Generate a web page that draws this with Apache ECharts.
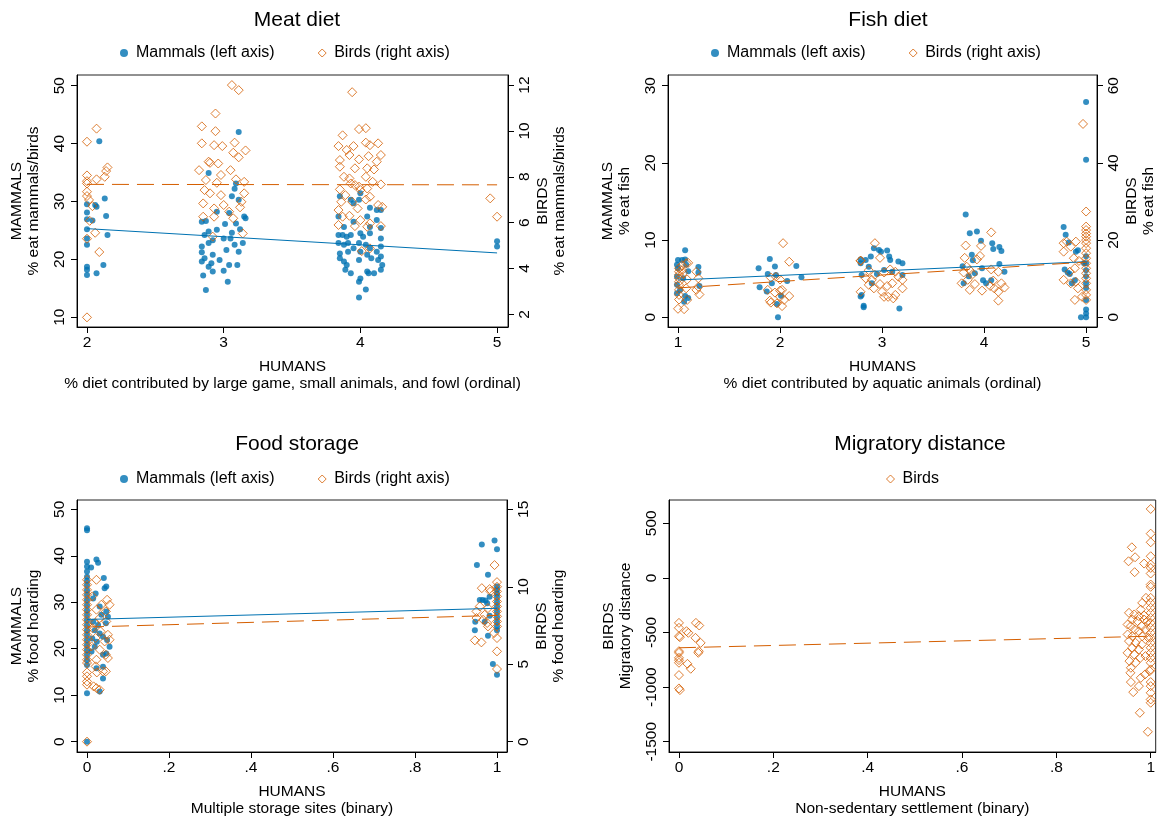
<!DOCTYPE html>
<html>
<head>
<meta charset="utf-8">
<script src="https://cdn.jsdelivr.net/npm/echarts@6/dist/echarts.min.js"></script>
<style>
html,body{margin:0;padding:0;background:#fff;}
#chart{width:1158px;height:822px;}
</style>
</head>
<body>
<div id="chart"></div>
<script>
var BLUE = '#0072B2', ORANGE = '#D55E00';
var FONT = 'Liberation Sans, Arial, sans-serif';

// ---- Meat diet ----
var meatMammals = [
  [2.09,40.4],[2.0,29.5],[2.06,29.4],[2.07,29.1],[2.13,30.5],[2.0,28.1],[2.0,26.9],[2.04,26.7],[2.14,27.5],[2.0,25.2],[2.0,23.6],[2.15,24.2],[2.0,22.5],[2.0,18.7],[2.0,18.2],[2.0,17.3],[2.07,17.6],[2.12,19.0],
  [3.11,42.0],[2.89,34.9],[3.09,33.1],[3.08,32.2],[3.06,30.9],[3.11,30.3],[2.95,28.2],[3.04,28.0],[3.15,27.4],[3.16,27.1],[2.84,26.5],[2.87,26.6],[3.01,26.1],[3.09,26.2],[2.86,24.2],[2.89,24.8],[2.95,25.1],[3.06,24.6],[3.12,25.2],[3.0,23.6],[3.05,23.6],[2.92,23.3],[2.89,22.8],[3.08,22.5],[3.14,22.8],[2.84,22.2],[2.84,21.2],[3.02,21.6],[3.11,21.3],[2.86,20.2],[2.92,20.8],[2.97,19.9],[2.84,19.6],[2.91,19.3],[3.04,19.0],[3.1,19.0],[2.89,18.7],[2.92,17.9],[2.85,17.2],[3.0,18.0],[3.03,16.1],[2.87,14.7],
  [3.85,30.9],[4.0,31.4],[3.99,30.3],[4.07,28.9],[3.93,30.3],[4.12,28.5],[4.15,28.5],[3.84,27.4],[4.05,27.4],[4.12,26.8],[3.95,26.5],[3.88,25.6],[4.07,25.6],[4.15,25.4],[3.84,24.2],[3.87,24.2],[3.9,23.9],[3.93,24.2],[4.0,24.5],[4.02,23.9],[4.07,24.5],[4.15,23.6],[3.84,22.8],[3.88,22.5],[3.91,22.8],[3.99,22.8],[4.04,22.5],[3.95,21.9],[4.07,21.9],[4.15,22.2],[4.12,21.3],[3.85,21.0],[4.0,21.3],[3.91,21.3],[4.05,20.8],[4.15,20.5],[3.85,20.2],[3.88,19.6],[3.99,19.9],[4.08,20.2],[4.13,19.9],[3.9,19.0],[4.16,19.0],[3.89,18.2],[3.93,17.6],[4.05,17.9],[4.06,17.6],[4.1,17.6],[4.15,18.2],[4.0,16.7],[3.99,16.1],[4.04,14.8],[3.99,13.4],[3.95,29.7],
  [5.0,23.1],[5.0,22.2]
];
var meatBirds = [
  [2.0,9.53],[2.07,10.1],[2.0,8.06],[2.0,7.81],[2.0,7.71],[2.15,8.41],[2.14,8.25],[2.13,8.0],[2.07,7.89],[2.0,7.35],[2.0,7.16],[2.015,6.99],[2.04,6.72],[2.02,6.08],[2.06,5.56],[2.0,5.3],[2.09,4.72],[2.0,1.87],
  [3.06,12.0],[3.11,11.78],[2.94,10.76],[2.84,10.2],[2.94,9.99],[2.84,9.46],[3.08,9.49],[2.93,9.38],[2.99,9.34],[3.16,9.15],[3.07,9.05],[3.11,8.85],[2.96,8.58],[2.82,8.29],[2.89,8.66],[2.9,8.61],[3.05,8.29],[2.98,8.08],[2.87,7.86],[3.09,7.89],[3.15,7.78],[2.95,7.74],[2.86,7.42],[2.9,7.28],[2.98,7.2],[3.15,7.28],[2.85,6.84],[2.93,6.62],[3.0,6.77],[3.13,6.91],[2.85,6.26],[2.93,6.26],[3.04,6.48],[3.12,6.67],[3.07,6.19],[2.92,5.39],[3.14,5.53],
  [3.94,11.69],[3.99,10.08],[4.04,10.12],[3.87,9.81],[3.84,9.34],[3.9,9.17],[3.95,9.34],[4.04,9.49],[4.07,9.38],[4.13,9.46],[3.92,8.95],[4.06,8.9],[4.15,8.95],[3.85,8.73],[3.99,8.76],[4.12,8.66],[3.85,8.44],[3.96,8.37],[4.05,8.37],[4.1,8.32],[3.88,8.0],[3.92,7.93],[4.04,8.0],[4.09,7.78],[3.93,7.71],[3.96,7.64],[3.99,7.57],[4.15,7.67],[3.85,7.45],[4.05,7.49],[3.89,7.2],[4.0,7.42],[4.07,7.13],[3.86,6.91],[3.94,6.91],[4.04,7.01],[3.84,6.55],[3.98,6.62],[4.13,6.77],[4.16,6.69],[3.87,6.26],[3.92,6.3],[4.0,6.11],[4.07,5.97],[3.84,5.9],[3.96,5.85],[4.05,5.82],[4.15,5.85],[4.01,4.76],[4.07,4.88],
  [4.95,7.06],[5.0,6.26]
];
var meatMammalFit = [[2, 25.3], [5, 21.1]];
var meatBirdFit = [[2, 7.67], [5, 7.65]];

// ---- Fish diet ----
var fishMammals = [
  [1.07,8.68],[1.0,7.43],[1.04,7.43],[1.07,7.5],[0.99,6.8],[1.08,6.8],[1.0,6.35],[1.2,6.5],[1.1,5.96],[1.2,5.8],[0.99,5.27],[1.05,5.05],[0.99,4.2],[1.21,4.06],[1.02,3.54],[1.07,2.77],[0.99,3.1],[1.06,2.0],[1.1,2.5],
  [1.79,6.35],[1.9,7.56],[1.95,6.57],[1.88,5.62],[1.96,5.49],[1.8,3.89],[1.87,3.33],[1.92,4.41],[1.97,1.73],[1.98,0.0],[2.01,2.8],[2.07,4.7],[2.16,6.65],[2.21,5.18],
  [2.92,8.94],[2.97,8.72],[2.99,8.5],[3.05,8.64],[3.08,7.43],[3.07,7.86],[3.16,7.22],[3.2,7.0],[2.89,7.86],[2.84,7.43],[2.79,7.0],[2.87,6.56],[2.8,5.48],[2.95,5.62],[3.1,5.9],[3.2,5.48],[2.79,2.68],[2.9,4.4],[3.02,6.13],[3.17,1.13],[2.82,1.5],[2.79,7.5],[2.82,1.3],[2.8,2.9],
  [3.82,13.3],[3.86,10.9],[3.93,11.1],[3.88,8.1],[3.89,7.4],[3.79,6.6],[3.8,4.4],[3.98,6.35],[3.97,9.9],[4.08,9.6],[4.09,8.85],[4.15,9.1],[4.17,8.6],[4.15,6.9],[4.2,5.9],[4.07,4.8],[3.99,4.8],[4.02,4.4],[3.85,5.3],[3.91,5.7],
  [5.0,27.9],[5.0,20.4],[4.78,11.7],[4.8,10.7],[4.79,6.2],[4.82,5.8],[4.84,5.6],[4.86,4.4],[4.89,4.8],[4.83,9.7],[4.9,8.5],[4.92,8.7],[5.0,7.9],[5.0,7.0],[5.0,6.1],[5.0,5.3],[5.0,4.4],[5.0,3.8],[5.0,2.25],[5.0,1.0],[5.0,0.0],[4.95,0.0],[5.0,0.5],[4.98,7.0]
];
var fishBirds = [
  [1.01,12.7],[1.01,11.8],[1.01,11.0],[1.01,10.1],[1.01,9.2],[1.01,8.4],[1.01,7.1],[1.01,5.8],[1.01,4.6],[1.04,12.2],[1.05,11.4],[1.08,14.0],[1.1,14.1],[1.09,9.8],[1.08,7.5],[1.09,4.5],[1.0,2.2],[1.06,2.1],[1.18,11.8],[1.2,10.1],[1.2,7.9],[1.21,5.9],[1.18,7.1],[1.04,13.5],
  [2.03,19.2],[2.09,14.4],[1.91,10.3],[1.96,10.5],[2.0,9.8],[1.88,7.1],[1.95,6.4],[2.0,6.9],[2.02,7.1],[2.09,5.5],[1.9,4.3],[1.91,3.8],[1.97,3.6],[2.04,4.5],[2.02,2.9],[2.0,5.3],
  [2.93,19.2],[2.79,14.7],[2.98,15.4],[2.87,12.2],[2.93,11.0],[3.02,11.6],[3.08,12.4],[3.13,11.8],[3.16,10.5],[3.2,9.7],[2.84,10.1],[2.9,9.7],[2.98,8.6],[3.05,8.1],[3.1,8.8],[2.79,6.6],[2.92,7.5],[3.0,6.6],[3.06,5.3],[3.11,4.9],[3.13,5.8],[3.2,7.5],[3.02,5.3],[2.87,8.4],[2.79,14.6],
  [4.07,22.0],[3.82,18.6],[3.97,18.5],[3.96,15.9],[3.93,15.0],[3.81,15.4],[3.83,13.1],[3.86,12.2],[3.8,11.6],[3.89,11.2],[3.84,9.7],[3.78,8.8],[3.91,8.6],[3.86,7.1],[3.98,6.9],[4.06,8.1],[4.09,9.5],[4.14,11.8],[4.1,7.5],[4.14,6.6],[4.2,7.7],[4.17,8.8],[4.14,4.3],[4.07,12.4],
  [4.97,50.1],[5.0,27.4],[5.0,23.5],[5.0,22.6],[5.0,21.7],[5.0,20.9],[5.0,20.0],[5.0,19.2],[5.0,17.9],[5.0,16.6],[5.0,15.3],[5.0,14.0],[5.0,12.7],[5.0,11.4],[5.0,10.1],[5.0,8.8],[5.0,7.1],[5.0,5.8],[5.0,4.5],[4.78,19.2],[4.81,19.6],[4.85,18.3],[4.9,19.6],[4.78,17.0],[4.88,15.3],[4.93,14.6],[4.89,12.7],[4.84,11.8],[4.78,9.7],[4.85,8.8],[4.9,9.2],[4.92,7.5],[4.89,4.5],[4.96,5.3]
];
var fishMammalFit = [[1, 4.83], [5, 7.2]];
var fishBirdFit = [[1, 7.6], [5, 14.3]];

// ---- Food storage ----
var storeMammals = [
  [0,45.9],[0,45.5],[0,38.7],[0,37.7],[0.01,37.5],[0,36.6],[0,35.5],[0,34.6],[0,33.7],[0,32.6],[0,31.6],[0,30.5],[0,29.4],[0,28.3],[0,27.3],[0,26.2],[0,25.1],[0,24.0],[0,23.0],[0,21.9],[0,20.8],[0,19.7],[0,18.7],[0,17.6],[0,16.5],[0,10.4],[0,0],
  [0.023,39.2],[0.027,38.5],[0.047,33.4],[0.043,33.0],[0.041,35.2],[0.021,31.9],[0.015,30.8],[0.031,29.1],[0.047,28.0],[0.035,27.3],[0.051,26.9],[0.015,25.8],[0.027,25.1],[0.046,25.5],[0.019,24.0],[0.031,23.3],[0.013,22.2],[0.024,21.5],[0.039,22.6],[0.049,21.9],[0.019,20.4],[0.011,19.4],[0.039,18.7],[0.047,19.0],[0.039,16.1],[0.023,15.8],[0.039,13.6],[0.031,10.8],[0.055,20.4],
  [0.994,43.3],[1.0,41.4],[0.963,42.4],[0.951,38.0],[0.978,35.9],[1.0,33.4],[1.0,32.7],[1.0,31.9],[1.0,31.2],[0.982,31.2],[0.958,30.5],[0.972,30.4],[0.965,30.5],[0.976,29.8],[1.0,30.1],[1.0,29.1],[1.0,28.0],[1.0,26.9],[1.0,25.8],[1.0,24.8],[1.0,24.0],[0.982,27.1],[0.97,25.8],[0.946,24.0],[0.978,22.8],[0.99,16.7],[1.0,14.4],[0.947,25.8]
];
var storeBirds = [
  [0,0],[0,10.45],[0,10.13],[0,9.8],[0,9.48],[0,9.16],[0,8.84],[0,8.52],[0,8.19],[0,7.87],[0,7.55],[0,7.23],[0,6.9],[0,6.58],[0,6.26],[0,5.94],[0,5.61],[0,5.29],[0,5.08],[0,4.47],[0,4.22],[0,3.89],[0,3.68],
  [0.023,10.45],[0.013,9.38],[0.035,8.84],[0.049,9.16],[0.055,8.84],[0.023,8.52],[0.046,8.41],[0.031,7.98],[0.019,7.66],[0.047,7.76],[0.013,7.33],[0.033,7.12],[0.051,6.9],[0.021,6.69],[0.043,6.47],[0.055,6.58],[0.011,6.15],[0.031,5.94],[0.046,5.61],[0.051,5.4],[0.023,5.29],[0.021,4.86],[0.039,4.54],[0.046,4.54],[0.024,4.47],[0.016,3.57],[0.023,3.46],[0.031,3.35],
  [0.994,11.4],[1.0,10.3],[1.0,10.0],[1.0,9.7],[1.0,9.38],[1.0,9.05],[1.0,8.73],[1.0,8.41],[1.0,8.09],[1.0,7.76],[1.0,7.44],[0.963,9.91],[0.982,9.85],[0.984,9.7],[0.958,8.73],[0.978,8.62],[0.95,8.41],[0.97,8.19],[0.95,7.98],[0.966,7.87],[0.976,7.66],[0.978,7.44],[0.993,7.01],[1.0,6.69],[0.946,6.54],[0.962,6.41],[1.0,5.83],[1.0,4.69]
];
var storeMammalFit = [[0, 26.3], [1, 28.7]];
var storeBirdFit = [[0, 7.4], [1, 8.15]];

// ---- Migratory distance ----
var migBirds = [
  [0,-412],[0,-457],[0,-534],[0.002,-543],[0,-671],[0,-686],[0,-732],[0,-753],[0,-777],[0,-890],[0,-1012],[0.002,-1027],[0.02,-503],[0.016,-488],[0.036,-412],[0.043,-436],[0.035,-549],[0.046,-595],[0.042,-671],[0.041,-686],[0.018,-787],[0.025,-832],
  [1.0,631],[1.0,405],[1.0,326],[0.96,280],[1.0,198],[0.967,189],[0.953,152],[0.986,131],[1.0,122],[1.0,91],[0.966,52],[1.0,40],[1.0,-61],[1.0,-82],[0.99,-183],[1.0,-183],[1.0,-229],[0.982,-229],[1.0,-274],[0.979,-290],[0.954,-320],[0.965,-335],[0.975,-351],[0.986,-345],[1.0,-320],[0.961,-381],[0.972,-396],[0.986,-381],[0.993,-396],[1.0,-366],[1.0,-412],[0.951,-427],[0.958,-442],[0.981,-442],[1.0,-457],[0.966,-473],[0.975,-488],[0.989,-473],[1.0,-503],[0.951,-518],[0.961,-534],[0.982,-534],[0.995,-549],[1.0,-549],[0.954,-579],[0.968,-595],[1.0,-595],[0.981,-610],[0.961,-640],[1.0,-640],[0.975,-655],[0.951,-686],[0.965,-701],[1.0,-686],[0.989,-716],[1.0,-732],[0.955,-762],[0.968,-777],[1.0,-777],[0.978,-732],[0.958,-823],[1.0,-838],[0.957,-869],[0.988,-884],[0.998,-854],[0.979,-915],[0.958,-954],[1.0,-954],[1.0,-991],[0.975,-991],[0.963,-1046],[1.0,-1052],[1.0,-1113],[1.0,-1143],[0.977,-1235],[0.994,-1409]
];
var migBirdFit = [[0, -640], [1, -534]];

// tick labels
var ticksMeatX = [2, 3, 4, 5], ticksMeatL = [10, 20, 30, 40, 50], ticksMeatR = [2, 4, 6, 8, 10, 12];
var ticksFishX = [1, 2, 3, 4, 5], ticksFishL = [0, 10, 20, 30], ticksFishR = [0, 20, 40, 60];
var ticksBinX = [0, 0.2, 0.4, 0.6, 0.8, 1];
var ticksStoreL = [0, 10, 20, 30, 40, 50], ticksStoreR = [0, 5, 10, 15];
var ticksMigY = [-1500, -1000, -500, 0, 500];

var FS = 15.5;
var DIAMOND = 'path://M5,0L10,5L5,10L0,5Z';

function binLabel(v){
    if (v === 0) return '0';
    if (v === 1) return '1';
    return String(Math.round(v * 10) / 10).replace('0.', '.');
}

function xAxisOf(grid, min, max, ticks, name, fmt){
    return {
        type: 'value', gridIndex: grid, min: min, max: max,
        name: name, nameLocation: 'middle', nameGap: 31,
        nameTextStyle: {color: '#000', fontFamily: FONT, fontSize: FS, lineHeight: 17},
        axisLine: {show: true, onZero: false, lineStyle: {color: '#000', width: 1}},
        axisTick: {show: true, length: 6, customValues: ticks, lineStyle: {color: '#000'}},
        axisLabel: {customValues: ticks, margin: 8, color: '#000', fontFamily: FONT, fontSize: FS,
                    formatter: fmt || function(v){ return String(v); }},
        splitLine: {show: false}
    };
}

function yAxisOf(grid, pos, min, max, ticks, name, gap){
    return {
        type: 'value', gridIndex: grid, position: pos, min: min, max: max,
        name: name, nameLocation: 'middle', nameRotate: 90, nameGap: gap,
        nameTextStyle: {color: '#000', fontFamily: FONT, fontSize: FS, lineHeight: 17},
        axisLine: {show: true, onZero: false, lineStyle: {color: '#000', width: 1}},
        axisTick: {show: true, length: 6, customValues: ticks, lineStyle: {color: '#000'}},
        axisLabel: {customValues: ticks, rotate: 90, margin: 9, color: '#000', fontFamily: FONT, fontSize: FS,
                    formatter: function(v){ return String(v); }},
        splitLine: {show: false}
    };
}

function dots(name, x, y, data){
    return {name: name, type: 'scatter', xAxisIndex: x, yAxisIndex: y, data: data,
            symbol: 'circle', symbolSize: 6, itemStyle: {color: BLUE}, silent: true};
}
function diamonds(name, x, y, data){
    return {name: name, type: 'scatter', xAxisIndex: x, yAxisIndex: y, data: data,
            symbol: 'diamond', symbolSize: 9,
            itemStyle: {color: 'rgba(255,255,255,0)', borderColor: ORANGE, borderWidth: 1}, silent: true};
}
function fit(name, x, y, data, color, dashed){
    return {name: name, type: 'line', xAxisIndex: x, yAxisIndex: y, data: data,
            showSymbol: false, symbol: 'none', silent: true,
            lineStyle: {color: color, width: 1, type: dashed ? [17, 8] : 'solid'}};
}

function legMammal(){
    return {name: 'Mammals (left axis)', icon: 'circle', itemStyle: {color: BLUE}};
}
function legBird(label){
    return {name: label, icon: DIAMOND,
            itemStyle: {color: 'rgba(255,255,255,0)', borderColor: ORANGE, borderWidth: 1}};
}

function legendOf(left, top, items){
    return {left: left, top: top, padding: 0, itemGap: 43, itemWidth: 14, itemHeight: 8,
            symbolKeepAspect: true,
            selectedMode: false, textStyle: {color: '#000', fontFamily: FONT, fontSize: 16}, data: items};
}

function titleOf(text, left, top){
    return {text: text, left: left, top: top, textAlign: 'center',
            textStyle: {color: '#000', fontFamily: FONT, fontSize: 21, fontWeight: 'normal'}};
}

var chart = echarts.init(document.getElementById('chart'), null, {renderer: 'canvas'});

var gridStyle = {show: true, borderColor: '#222', borderWidth: 1, backgroundColor: '#fff'};

option = {
    animation: false,
    backgroundColor: '#fff',
    title: [
        titleOf('Meat diet', 292, 5),
        titleOf('Fish diet', 883, 5),
        titleOf('Food storage', 292, 429),
        titleOf('Migratory distance', 915, 429)
    ],
    legend: [
        legendOf(120, 45, [legMammal(), legBird('Birds (right axis)')]),
        legendOf(711, 45, [legMammal(), legBird('Birds (right axis)')]),
        legendOf(120, 471, [legMammal(), legBird('Birds (right axis)')]),
        legendOf(886, 471, [legBird('Birds')])
    ],
    grid: [
        Object.assign({left: 77, top: 75, width: 431, height: 252}, gridStyle),
        Object.assign({left: 668, top: 75, width: 431, height: 252}, gridStyle),
        Object.assign({left: 77, top: 500, width: 430, height: 252}, gridStyle),
        Object.assign({left: 669, top: 500, width: 488, height: 252}, gridStyle)
    ],
    xAxis: [
        xAxisOf(0, 1.927, 5.08, ticksMeatX, 'HUMANS\n% diet contributed by large game, small animals, and fowl (ordinal)'),
        xAxisOf(1, 0.902, 5.107, ticksFishX, 'HUMANS\n% diet contributed by aquatic animals (ordinal)'),
        xAxisOf(2, -0.0244, 1.0244, ticksBinX, 'HUMANS\nMultiple storage sites (binary)', binLabel),
        xAxisOf(3, -0.0211, 1.0106, ticksBinX, 'HUMANS\nNon-sedentary settlement (binary)', binLabel)
    ],
    yAxis: [
        yAxisOf(0, 'left', 8.3, 51.85, ticksMeatL, 'MAMMALS\n% eat mammals/birds', 35),
        yAxisOf(0, 'right', 1.45, 12.44, ticksMeatR, 'BIRDS\n% eat mammals/birds', 26),
        yAxisOf(1, 'left', -1.26, 31.39, ticksFishL, 'MAMMALS\n% eat fish', 35),
        yAxisOf(1, 'right', -2.52, 62.78, ticksFishR, 'BIRDS\n% eat fish', 26),
        yAxisOf(2, 'left', -2.22, 52.0, ticksStoreL, 'MAMMALS\n% food hoarding', 35),
        yAxisOf(2, 'right', -0.666, 15.6, ticksStoreR, 'BIRDS\n% food hoarding', 26),
        yAxisOf(3, 'left', -1594, 713, ticksMigY, 'BIRDS\nMigratory distance', 35)
    ],
    series: [
        dots('Mammals (left axis)', 0, 0, meatMammals),
        diamonds('Birds (right axis)', 0, 1, meatBirds),
        fit('fit1', 0, 0, meatMammalFit, BLUE, false),
        fit('fit2', 0, 1, meatBirdFit, ORANGE, true),

        dots('Mammals (left axis)', 1, 2, fishMammals),
        diamonds('Birds (right axis)', 1, 3, fishBirds),
        fit('fit3', 1, 2, fishMammalFit, BLUE, false),
        fit('fit4', 1, 3, fishBirdFit, ORANGE, true),

        dots('Mammals (left axis)', 2, 4, storeMammals),
        diamonds('Birds (right axis)', 2, 5, storeBirds),
        fit('fit5', 2, 4, storeMammalFit, BLUE, false),
        fit('fit6', 2, 5, storeBirdFit, ORANGE, true),

        diamonds('Birds', 3, 6, migBirds),
        fit('fit7', 3, 6, migBirdFit, ORANGE, true)
    ]
};

chart.setOption(option);
</script>
</body>
</html>
